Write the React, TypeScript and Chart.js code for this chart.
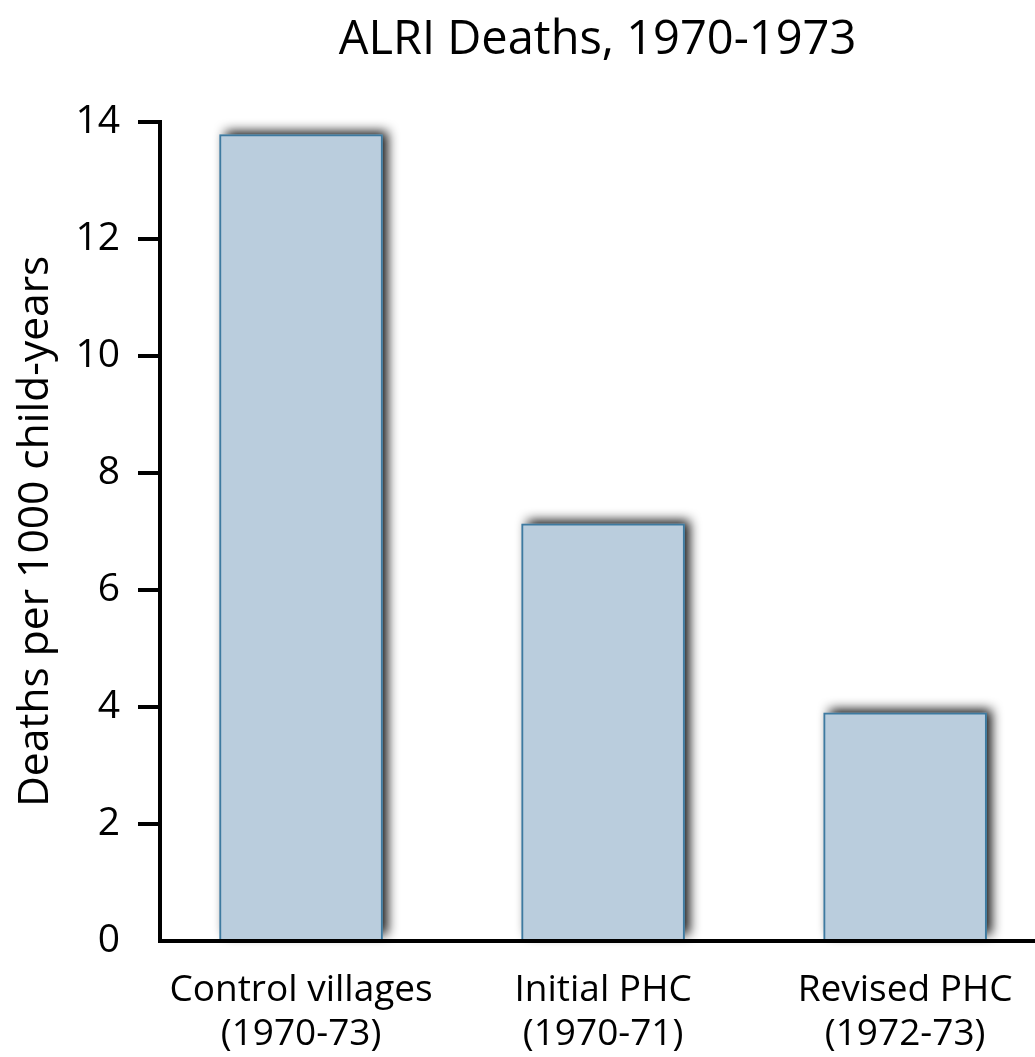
import React, { useEffect, useRef } from "react";
import { Chart, registerables } from "chart.js";

Chart.register(...registerables);

const categories: string[][] = [
  ["Control villages", "(1970-73)"],
  ["Initial PHC", "(1970-71)"],
  ["Revised PHC", "(1972-73)"],
];
const positions: number[] = [0, 1, 2];
const deaths: number[] = [13.78, 7.13, 3.9];
const yTicks: number[] = [0, 2, 4, 6, 8, 10, 12, 14];
const titleText = "ALRI Deaths, 1970-1973";
const yTitle = "Deaths per 1000 child-years";

const FONT = "'Open Sans', 'DejaVu Sans', sans-serif";

const shadowPlugin = {
  id: "barShadow",
  beforeDatasetsDraw(chart: any) {
    const ctx = chart.ctx;
    const meta = chart.getDatasetMeta(0);
    ctx.save();
    ctx.shadowColor = "rgba(0,0,0,0.95)";
    ctx.shadowBlur = 11;
    ctx.shadowOffsetX = 5;
    ctx.shadowOffsetY = -4;
    ctx.fillStyle = "#bacddd";
    meta.data.forEach((el: any) => {
      const { x, y, base, width } = el.getProps(["x", "y", "base", "width"], true);
      ctx.fillRect(x - width / 2, y, width, base - y);
    });
    ctx.restore();
  },
};

export default function App() {
  const ref = useRef<HTMLCanvasElement | null>(null);
  useEffect(() => {
    if (!ref.current) return;
    const chart = new Chart(ref.current, {
      type: "bar",
      data: {
        datasets: [
          {
            data: positions.map((p, i) => ({ x: p, y: deaths[i] })),
            backgroundColor: "#bacddd",
            borderColor: "#3e7aa0",
            borderWidth: 2,
            barThickness: 163,
          },
        ],
      },
      plugins: [shadowPlugin],
      options: {
        responsive: false,
        animation: false,
        layout: { padding: 0 },
        plugins: {
          legend: { display: false },
          tooltip: { enabled: false },
          title: {
            display: true,
            fullSize: false,
            text: titleText,
            color: "#000",
            font: { family: FONT, size: 47, weight: "normal", lineHeight: 1.2 },
            padding: { top: 12, bottom: 53.3 },
          },
        },
        scales: {
          x: {
            type: "linear",
            min: -0.467,
            max: 2.43,
            offset: false,
            z: 1,
            afterBuildTicks: (scale: any) => {
              scale.ticks = positions.map((v) => ({ value: v }));
            },
            afterFit: (scale: any) => {
              scale.height = 116;
            },
            grid: { display: false },
            border: { display: true, color: "#000", width: 4 },
            ticks: {
              color: "#000",
              font: { family: FONT, size: 37, lineHeight: 1.2 },
              padding: 19,
              maxRotation: 0,
              autoSkip: false,
              callback: (v: any) => categories[positions.indexOf(Number(v))] ?? "",
            },
          },
          y: {
            min: 0,
            max: 14,
            afterBuildTicks: (scale: any) => {
              scale.ticks = yTicks.map((v) => ({ value: v }));
            },
            afterFit: (scale: any) => {
              scale.width = 160;
            },
            grid: {
              display: true,
              drawOnChartArea: false,
              drawTicks: true,
              tickLength: 22,
              lineWidth: 4,
              color: "#000",
              tickColor: (ctx: any) => (ctx.tick && ctx.tick.value === 0 ? "rgba(0,0,0,0)" : "#000"),
            },
            border: { display: true, color: "#000", width: 4 },
            ticks: {
              color: "#000",
              font: { family: FONT, size: 39 },
              padding: 18,
            },
            title: {
              display: true,
              text: yTitle,
              color: "#000",
              font: { family: FONT, size: 42.5, weight: "normal", lineHeight: 1.2 },
              padding: { top: 10, bottom: 0 },
            },
          },
        },
      },
    } as any);
    return () => chart.destroy();
  }, []);
  return (
    <div style={{ position: "absolute", left: 0, top: 0, width: 1035, height: 1057, background: "#fff" }}>
      <canvas ref={ref} width={1035} height={1057} style={{ display: "block" }} />
    </div>
  );
}
